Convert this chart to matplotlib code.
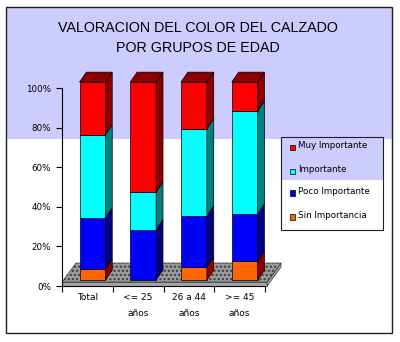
import matplotlib
matplotlib.use("Agg")
import matplotlib.pyplot as plt
from matplotlib.patches import Rectangle, Polygon

# ---------------- data ----------------
categories = ["Total", "<= 25\naños", "26 a 44\naños", ">= 45\naños"]
series_names = ["Sin Importancia", "Poco Importante", "Importante", "Muy Importante"]
sin_importancia = [5.5, 0.0, 6.5, 9.5]
poco_importante = [26.0, 25.5, 26.0, 24.0]
importante = [42.0, 19.0, 44.0, 52.0]
muy_importante = [26.5, 55.5, 23.5, 14.5]
yticks = [0, 20, 40, 60, 80, 100]
ytick_labels = ["0%", "20%", "40%", "60%", "80%", "100%"]
title_lines = ["VALORACION DEL COLOR DEL CALZADO", "POR GRUPOS DE EDAD"]

series_values = [sin_importancia, poco_importante, importante, muy_importante]
front_colors = ["#FF6600", "#0000FF", "#00FFFF", "#FF0000"]
side_colors = ["#8E0000", "#000080", "#008080", "#8E0000"]
top_colors = ["#8E0000", "#000080", "#008080", "#8E0000"]

W, H = 400, 342
fig = plt.figure(figsize=(W / 100, H / 100), dpi=100)


def fx(x):
    return x / W


def fy(y):
    return 1 - y / H


def frect(x0, y0, x1, y1, **kw):
    r = Rectangle((fx(x0), fy(y1)), fx(x1) - fx(x0), fy(y0) - fy(y1),
                  transform=fig.transFigure, **kw)
    fig.add_artist(r)
    return r


# background band and border
frect(6, 7, 392, 139, facecolor="#CCCCFF", edgecolor="none", zorder=0)
frect(6, 7, 392, 333, facecolor="none", edgecolor="#202020", lw=1.0, zorder=20)

# title
fig.text(fx(198), fy(27.5), title_lines[0], ha="center", va="center",
         family="Liberation Sans", fontsize=10.3, color="black")
fig.text(fx(198), fy(48.5), title_lines[1], ha="center", va="center",
         family="Liberation Sans", fontsize=10.3, color="black")

# axes
ax = fig.add_axes([fx(62), fy(286), fx(265) - fx(62), fy(88) - fy(286)])
ax.patch.set_visible(False)
ax.set_xlim(-0.5, len(categories) - 0.5)
ax.set_ylim(0, 100)
for s in ["top", "right"]:
    ax.spines[s].set_visible(False)
ax.spines["left"].set_linewidth(0.8)
ax.spines["bottom"].set_linewidth(0.8)
ax.spines["left"].set_zorder(6)
ax.spines["bottom"].set_zorder(6)

ax.set_yticks(yticks)
ax.set_yticklabels(ytick_labels, family="DejaVu Sans", fontsize=6.3)
ax.tick_params(axis="y", length=4, width=0.8, pad=4)
xs = list(range(len(categories)))
ax.set_xticks(xs)
ax.set_xticklabels(categories, family="DejaVu Sans", fontsize=6.5, linespacing=2.0)
ax.set_xticks([i - 0.5 for i in range(len(categories) + 1)], minor=True)
ax.tick_params(axis="x", which="major", length=0, pad=5)
ax.tick_params(axis="x", which="minor", length=4, width=0.8)

# floor (slab)
x_left, x_right = -0.5, 3.54
slab = 2.0
fdx, fdy = 0.276, 9.6
band = Polygon([(x_left, 0), (x_right, 0), (x_right, slab), (x_left, slab)],
               closed=True, facecolor="#A6A6A6", edgecolor="#333333", lw=0.5,
               zorder=1, clip_on=False)
ax.add_patch(band)
rside = Polygon([(x_right, 0), (x_right + fdx, fdy), (x_right + fdx, fdy + slab), (x_right, slab)],
                closed=True, facecolor="#A6A6A6", edgecolor="#333333", lw=0.5,
                zorder=1, clip_on=False)
ax.add_patch(rside)
top_pts = [(x_left, slab), (x_right, slab), (x_right + fdx, slab + fdy), (x_left + fdx, slab + fdy)]
ax.add_patch(Polygon(top_pts, closed=True, facecolor="#9A9A9A", edgecolor="#3A3A3A",
                     hatch="....", lw=0, zorder=1, clip_on=False))
ax.add_patch(Polygon(top_pts, closed=True, facecolor="none", edgecolor="#333333",
                     lw=0.5, zorder=1.1, clip_on=False))

# bars
shift = 0.1
bw = 0.51
ddx, ddy = 0.135, 5.0
base = 3.0
for i in xs:
    xl = i + shift - bw / 2
    xr = xl + bw
    cum = base
    top_idx = None
    for k, vals in enumerate(series_values):
        v = vals[i]
        if v <= 0:
            continue
        y0, y1 = cum, cum + v
        ax.add_patch(Rectangle((xl, y0), bw, v, facecolor=front_colors[k],
                               edgecolor="black", lw=0.5, zorder=3, clip_on=False))
        ax.add_patch(Polygon([(xr, y0), (xr + ddx, y0 + ddy), (xr + ddx, y1 + ddy), (xr, y1)],
                             closed=True, facecolor=side_colors[k], edgecolor="black",
                             lw=0.5, zorder=3, clip_on=False))
        cum = y1
        top_idx = k
    ax.add_patch(Polygon([(xl, cum), (xr, cum), (xr + ddx, cum + ddy), (xl + ddx, cum + ddy)],
                         closed=True, facecolor=top_colors[top_idx], edgecolor="black",
                         lw=0.5, zorder=3, clip_on=False))

# legend (manual, as in reference)
frect(281, 137, 383, 180, facecolor="#CCCCFF", edgecolor="none", zorder=5)
frect(281, 137, 383, 230, facecolor="none", edgecolor="#202020", lw=0.8, zorder=6)
frect(281, 180, 383, 230, facecolor="white", edgecolor="none", zorder=4)
legend_y = [216, 192, 170, 146]
for k, name in enumerate(series_names):
    yc = legend_y[k]
    frect(290, yc - 1.5, 295, yc + 3.5, facecolor=front_colors[k], edgecolor="black",
          lw=0.5, zorder=7)
    fig.text(fx(298), fy(yc), name, ha="left", va="center", family="DejaVu Sans",
             fontsize=6.3, color="black", zorder=7)

fig.savefig("out.png", dpi=100)
